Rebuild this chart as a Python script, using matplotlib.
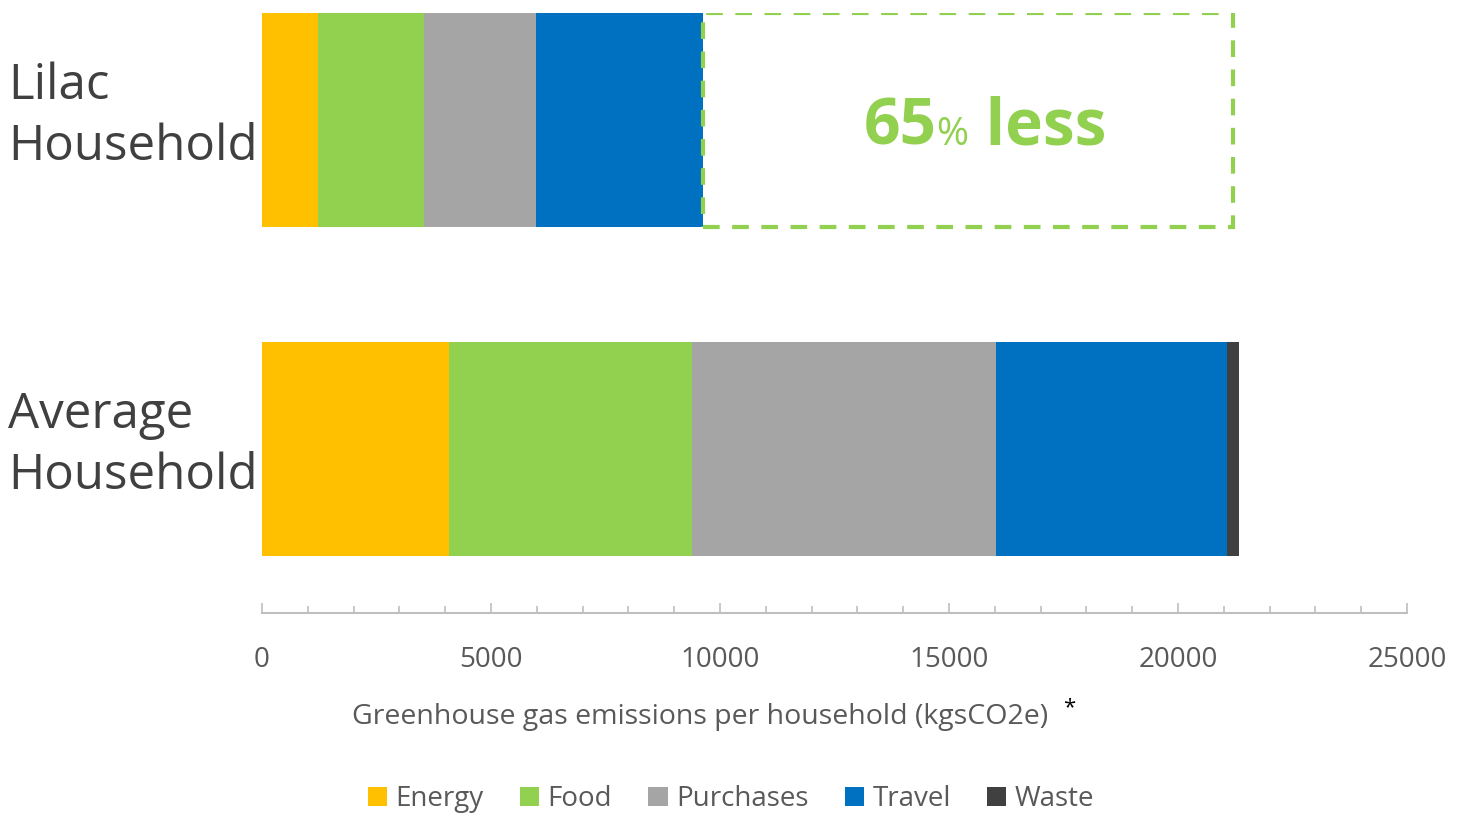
import numpy as np
import matplotlib.pyplot as plt
from matplotlib.offsetbox import TextArea, HPacker, AnnotationBbox
from matplotlib.patches import Rectangle
from matplotlib.ticker import MultipleLocator
import matplotlib.transforms as mtransforms

plt.rcParams['font.family'] = ['Open Sans', 'DejaVu Sans']

households = ['Average\nHousehold', 'Lilac\nHousehold']
categories = ['Energy', 'Food', 'Purchases', 'Travel', 'Waste']
# values per household, order matches households (Average, Lilac)
energy = [4080, 1220]
food = [5310, 2320]
purchases = [6640, 2440]
travel = [5040, 3650]
waste = [260, 0]
colors = ['#FFC000', '#92D050', '#A5A5A5', '#0070C0', '#404040']
saving_label = '65'

series = [energy, food, purchases, travel, waste]

fig = plt.figure(figsize=(14.65, 8.14), dpi=100)
ax = fig.add_axes([262 / 1465, 1 - 613 / 814, 1145 / 1465, 600 / 814])

ypos = np.arange(len(households))
left = np.zeros(len(households))
for vals, cat, col in zip(series, categories, colors):
    ax.barh(ypos, vals, left=left, height=0.65, color=col, label=cat)
    left = left + np.array(vals)

ax.set_xlim(0, 25000)
ax.set_ylim(-0.499, 1.325)

# dashed box showing the saving
lilac_total = left[1]
avg_total = left[0]
ax.add_patch(Rectangle((lilac_total, 1 - 0.325), avg_total - lilac_total - 120, 0.65,
                       fill=False, edgecolor='#92D050', linestyle=(0, (4, 3)),
                       linewidth=3, zorder=3))

big = TextArea(saving_label, textprops=dict(color='#92D050', fontsize=46, fontweight='bold'))
pct = TextArea('%', textprops=dict(color='#92D050', fontsize=28))
less = TextArea(' less', textprops=dict(color='#92D050', fontsize=46, fontweight='bold'))
pack = HPacker(children=[big, pct, less], align='baseline', pad=0, sep=0)
ab = AnnotationBbox(pack, ((lilac_total + avg_total) / 2 + 300, 1.0 - 0.035), frameon=False,
                    box_alignment=(0.5, 0.45))
ax.add_artist(ab)

# household labels on the left
trans = mtransforms.blended_transform_factory(fig.transFigure, ax.transData)
for y, name in zip(ypos, households):
    ax.text(8 / 1465, y + 0.01, name, transform=trans, ha='left', va='center',
            fontsize=35.5, color='#404040', linespacing=1.32)

ax.set_yticks([])
for s in ['top', 'right', 'left']:
    ax.spines[s].set_visible(False)
ax.spines['bottom'].set_color('#BFBFBF')
ax.spines['bottom'].set_linewidth(1.5)

ax.xaxis.set_major_locator(MultipleLocator(5000))
ax.xaxis.set_minor_locator(MultipleLocator(1000))
ax.tick_params(axis='x', which='major', direction='in', length=7.5, width=1.2,
               color='#BFBFBF', labelsize=20, labelcolor='#595959', pad=24)
ax.tick_params(axis='x', which='minor', direction='in', length=5, width=1.2,
               color='#BFBFBF')

fig.text(700 / 1465, 1 - 717 / 814, 'Greenhouse gas emissions per household (kgsCO2e)',
         ha='center', va='center', fontsize=20.5, color='#595959')
fig.text(1069 / 1465, 1 - 708 / 814, '*', ha='center', va='center', fontsize=16,
         color='black')

fig.legend(loc='center', bbox_to_anchor=(731 / 1465, 1 - 799 / 814), ncol=5,
           frameon=False, fontsize=20, handlelength=0.7, handleheight=0.7,
           handletextpad=0.3, columnspacing=1.3, labelcolor='#595959')

fig.savefig('out.png', dpi=100)
